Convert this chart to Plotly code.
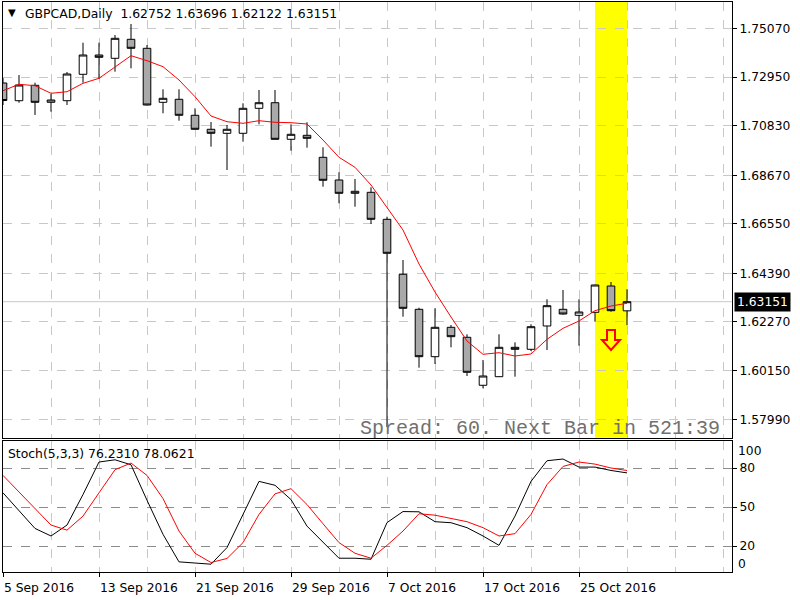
import plotly.graph_objects as go

# ---------------- data ----------------
dates = ["5 Sep 2016", "6 Sep 2016", "7 Sep 2016", "8 Sep 2016", "9 Sep 2016",
         "12 Sep 2016", "13 Sep 2016", "14 Sep 2016", "15 Sep 2016", "16 Sep 2016",
         "19 Sep 2016", "20 Sep 2016", "21 Sep 2016", "22 Sep 2016", "23 Sep 2016",
         "26 Sep 2016", "27 Sep 2016", "28 Sep 2016", "29 Sep 2016", "30 Sep 2016",
         "3 Oct 2016", "4 Oct 2016", "5 Oct 2016", "6 Oct 2016", "7 Oct 2016",
         "10 Oct 2016", "11 Oct 2016", "12 Oct 2016", "13 Oct 2016", "14 Oct 2016",
         "17 Oct 2016", "18 Oct 2016", "19 Oct 2016", "20 Oct 2016", "21 Oct 2016",
         "24 Oct 2016", "25 Oct 2016", "26 Oct 2016", "27 Oct 2016", "28 Oct 2016"]

opens = [1.72693, 1.71920, 1.72592, 1.71851, 1.71920, 1.73072, 1.73914, 1.73770, 1.74599, 1.74207,
         1.71851, 1.71982, 1.71284, 1.70673, 1.70498, 1.70498, 1.71589, 1.71833, 1.70236, 1.70411,
         1.69451, 1.68461, 1.67880, 1.67924, 1.66746, 1.64347, 1.62819, 1.60751, 1.62034, 1.61598,
         1.59504, 1.59879, 1.61161, 1.61074, 1.62091, 1.62819, 1.62557, 1.62688, 1.63836, 1.62752]
highs = [1.72911, 1.73042, 1.72706, 1.72213, 1.73173, 1.74451, 1.74451, 1.74787, 1.75267, 1.74351,
         1.72418, 1.72418, 1.71589, 1.70991, 1.70860, 1.71807, 1.72387, 1.72387, 1.70891, 1.70978,
         1.69887, 1.68797, 1.68504, 1.68142, 1.66859, 1.64970, 1.62889, 1.62863, 1.62134, 1.61729,
         1.60607, 1.61729, 1.61379, 1.62165, 1.63256, 1.63661, 1.63256, 1.63901, 1.64010, 1.63696]
lows = [1.71733, 1.71833, 1.71297, 1.71441, 1.71733, 1.72706, 1.72867, 1.73186, 1.73334, 1.71711,
        1.71371, 1.71048, 1.70664, 1.69914, 1.68897, 1.70132, 1.70891, 1.70228, 1.69740, 1.69870,
        1.68168, 1.67444, 1.67296, 1.66541, 1.57684, 1.62496, 1.60271, 1.60433, 1.61161, 1.59909,
        1.59373, 1.59866, 1.59879, 1.61000, 1.61044, 1.62584, 1.61231, 1.62278, 1.62714, 1.62122]
closes = [1.71929, 1.72605, 1.71851, 1.71951, 1.73085, 1.73914, 1.73814, 1.74643, 1.74207, 1.71733,
          1.72025, 1.71284, 1.70673, 1.70498, 1.70673, 1.71589, 1.71833, 1.70236, 1.70454, 1.70280,
          1.68448, 1.67880, 1.67968, 1.66746, 1.65263, 1.62863, 1.60751, 1.62034, 1.61624, 1.60071,
          1.59909, 1.61161, 1.61074, 1.62060, 1.62977, 1.62614, 1.62701, 1.63879, 1.62758, 1.63151]
ma_line = [1.72357, 1.72636, 1.72575, 1.72243, 1.72313, 1.72680, 1.72898, 1.73404, 1.73884, 1.73666,
           1.73404, 1.72824, 1.72095, 1.71253, 1.71004, 1.70934, 1.71048, 1.70978, 1.70961, 1.70904,
           1.70206, 1.69451, 1.69015, 1.68242, 1.67239, 1.66279, 1.64796, 1.63574, 1.62483, 1.61436,
           1.60856, 1.60926, 1.60782, 1.60869, 1.61510, 1.61990, 1.62309, 1.62758, 1.62963, 1.63081]
stoch_k = [60.9, 47.1, 33.5, 27.7, 36.1, 59.6, 84.6, 86.3, 82.5, 55.2,
           29.0, 7.8, 6.8, 6.0, 18.8, 43.7, 69.7, 66.7, 55.7, 35.3,
           23.1, 10.6, 10.6, 9.8, 38.0, 46.5, 46.3, 38.7, 37.9, 34.1,
           27.7, 20.5, 43.0, 69.7, 85.6, 86.9, 80.7, 80.7, 78.1, 76.231]
stoch_d = [74.3, 61.6, 48.8, 36.1, 32.2, 43.0, 60.9, 78.7, 83.8, 74.3,
           56.5, 31.5, 14.4, 7.3, 10.4, 22.6, 44.3, 60.1, 64.1, 51.9,
           37.1, 22.6, 14.4, 10.6, 20.5, 31.5, 44.8, 43.7, 41.2, 38.7,
           34.1, 27.7, 29.5, 44.3, 67.2, 81.2, 84.6, 83.0, 80.0, 78.0621]

price_ticks = [1.75070, 1.72950, 1.70830, 1.68670, 1.66550, 1.64390, 1.62270, 1.60150, 1.57990]
price_labels = ["1.75070", "1.72950", "1.70830", "1.68670", "1.66550",
                "1.64390", "1.62270", "1.60150", "1.57990"]
stoch_levels = [80, 50, 20]
highlight_start, highlight_end = "26 Oct 2016", "28 Oct 2016"
signal_date = "27 Oct 2016"
signal_price = 1.6148
label_every = 6
grid_every = 3

# ---------------- figure ----------------
idx = list(range(len(dates)))
label_idx = idx[::label_every]
label_txt = [dates[i] for i in label_idx]
font_main = "DejaVu Sans"
grid_col = "#c8c8c8"

fig = go.Figure()
fig.add_trace(go.Candlestick(
    x=idx, open=opens, high=highs, low=lows, close=closes,
    xaxis="x", yaxis="y", whiskerwidth=0,
    increasing=dict(line=dict(color="black", width=1), fillcolor="white"),
    decreasing=dict(line=dict(color="black", width=1), fillcolor="#a9a9a9"),
    showlegend=False, hoverinfo="skip"))
fig.add_trace(go.Scatter(x=idx, y=ma_line, mode="lines", xaxis="x", yaxis="y",
                         line=dict(color="red", width=1), showlegend=False, hoverinfo="skip"))
fig.add_trace(go.Scatter(x=idx, y=stoch_k, mode="lines", xaxis="x2", yaxis="y2",
                         line=dict(color="black", width=1), showlegend=False, hoverinfo="skip"))
fig.add_trace(go.Scatter(x=idx, y=stoch_d, mode="lines", xaxis="x2", yaxis="y2",
                         line=dict(color="red", width=1), showlegend=False, hoverinfo="skip"))

L, R, T, B = 3, 68, 2, 28
W, H = 800, 600
pw, ph = W - L - R, H - T - B
bar_px = 16
xr = [0, pw / bar_px]

def py(ypx):  # pixel row -> paper y
    return (H - B - ypx) / ph

def px(xpx):
    return (xpx - L) / pw

main_dom = [py(437.7), 1]
stoch_dom = [0, py(440.7)]

axis_common = dict(showline=True, mirror=True, linecolor="black", linewidth=1, zeroline=False)

fig.update_layout(
    width=W, height=H, margin=dict(l=L, r=R, t=T, b=B),
    paper_bgcolor="white", plot_bgcolor="white",
    font=dict(family=font_main, size=12, color="black"),
    boxgap=0.32,
    xaxis=dict(domain=[0, 1], range=xr, anchor="y", showticklabels=False, ticks="",
               tickmode="linear", tick0=0, dtick=grid_every,
               showgrid=True, gridcolor=grid_col, griddash="dash", gridwidth=1,
               rangeslider=dict(visible=False), **axis_common),
    yaxis=dict(domain=main_dom, range=[1.57217, 1.76227], side="right", anchor="x",
               tickvals=price_ticks, ticktext=price_labels, ticks="outside", ticklen=4,
               tickcolor="black", showgrid=True, gridcolor=grid_col, griddash="dash",
               tickfont=dict(size=12.3), **axis_common),
    xaxis2=dict(domain=[0, 1], range=xr, anchor="y2", tickvals=label_idx, ticktext=label_txt,
                ticks="outside", ticklen=4, tickcolor="black", ticklabelposition="outside right",
                ticklabelstandoff=4,
                showgrid=True, gridcolor=grid_col, griddash="dash",
                minor=dict(tick0=0, dtick=grid_every, showgrid=True, gridcolor=grid_col,
                           griddash="dash", ticks=""),
                tickfont=dict(size=12.3), **axis_common),
    yaxis2=dict(domain=stoch_dom, range=[0, 101], side="right", anchor="x2",
                tickvals=stoch_levels, ticktext=[str(v) for v in stoch_levels],
                ticks="outside", ticklen=4, tickcolor="black",
                showgrid=True, gridcolor="#8c8c8c", griddash="dash",
                tickfont=dict(size=12.3), **axis_common),
)

# current price line and highlight band
last_close = closes[-1]
fig.add_shape(type="line", xref="paper", yref="y", x0=0, x1=1, y0=last_close, y1=last_close,
              line=dict(color="#c8c8c8", width=1), layer="below")
fig.add_shape(type="rect", xref="x", yref="paper",
              x0=dates.index(highlight_start), x1=dates.index(highlight_end),
              y0=main_dom[0], y1=main_dom[1],
              fillcolor="#ffff00", line=dict(width=0), layer="below")
# hollow down-arrow signal glyph (pixel-sized, anchored at the signal bar/price)
fig.add_shape(type="path", xref="x", yref="y", xsizemode="pixel", ysizemode="pixel",
              xanchor=dates.index(signal_date), yanchor=signal_price,
              path="M -4,10 L 4,10 L 4,0 L 9,0 L 0,-10 L -9,0 L -4,0 Z",
              line=dict(color="red", width=2), fillcolor="rgba(0,0,0,0)", layer="above")

ann = []
ann.append(dict(text="▼", xref="paper", yref="paper", x=px(12), y=py(13),
                xanchor="center", yanchor="middle", showarrow=False,
                font=dict(size=10, color="black")))
ann.append(dict(text="GBPCAD,Daily\u00a0\u00a0%.5f %.5f %.5f %.5f" % (opens[-1], highs[-1], lows[-1], closes[-1]),
                xref="paper", yref="paper", x=px(23), y=py(14), xanchor="left", yanchor="middle",
                showarrow=False, font=dict(size=12.4, color="black")))
ann.append(dict(text="Stoch(5,3,3) %.4f %.4f" % (stoch_k[-1], stoch_d[-1]),
                xref="paper", yref="paper", x=px(6), y=py(453), xanchor="left", yanchor="middle",
                showarrow=False, font=dict(size=12.4, color="black")))
ann.append(dict(text="Spread: 60. Next Bar in 521:39", xref="paper", yref="paper",
                x=px(722), y=py(428), xanchor="right", yanchor="middle", showarrow=False,
                font=dict(family="Liberation Mono", size=20, color="#707070")))
ann.append(dict(text="%.5f" % last_close, xref="paper", yref="y", x=1, y=last_close,
                xanchor="left", yanchor="middle", xshift=2, showarrow=False,
                bgcolor="black", borderpad=2, font=dict(size=12.3, color="white")))
ann.append(dict(text="100", xref="paper", yref="paper", x=1, y=py(450.7), xanchor="left",
                yanchor="middle", xshift=4, showarrow=False, font=dict(size=12.3, color="black")))
ann.append(dict(text="0", xref="paper", yref="paper", x=1, y=py(564), xanchor="left",
                yanchor="middle", xshift=4, showarrow=False, font=dict(size=12.3, color="black")))
fig.update_layout(annotations=ann)

fig.write_html("out.html")
